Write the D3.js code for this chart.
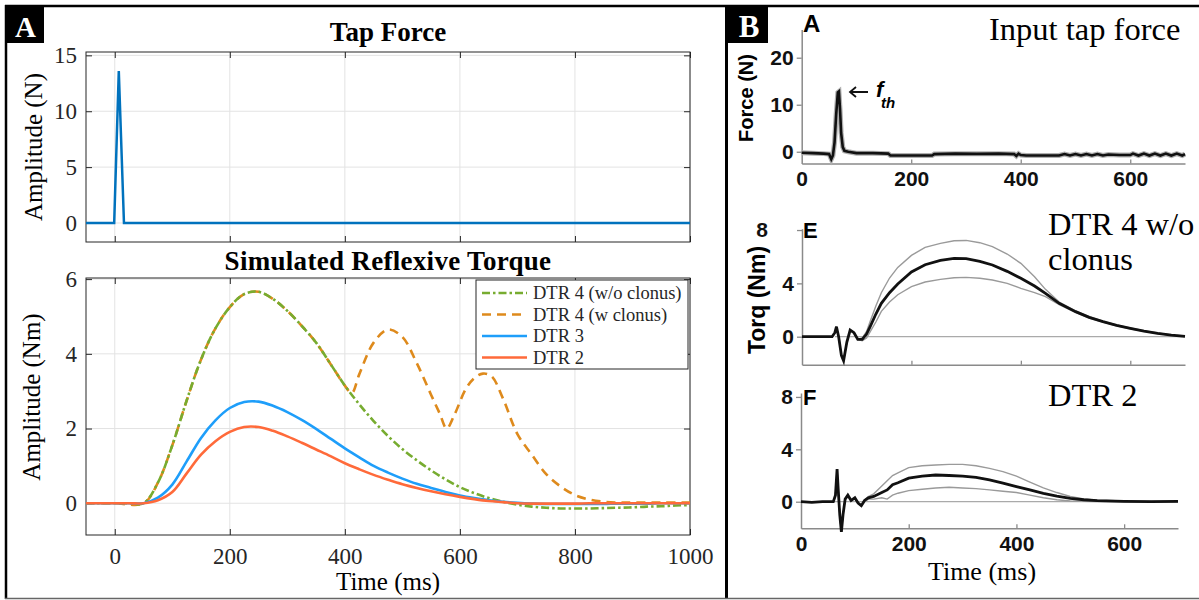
<!DOCTYPE html>
<html>
<head>
<meta charset="utf-8">
<script src="https://cdnjs.cloudflare.com/ajax/libs/d3/7.8.5/d3.min.js"></script>
<style>
body { margin: 0; background: #fff; }
svg { display: block; }
.serif { font-family: "Liberation Serif", "Times New Roman", serif; }
.sans { font-family: "Liberation Sans", Arial, sans-serif; font-weight: bold; }
</style>
</head>
<body>
<svg id="fig" width="1199" height="600"></svg>
<script>
// ---- panel A, tap force ----
var tapTime = [-50, -1, 7, 16, 1000];
var tapForce = [0, 0, 13.6, 0, 0];

// ---- panel A, simulated torque ----
var simTime = [-50,-25,0,25,50,75,100,125,150,175,200,225,250,275,300,325,350,375,400,425,450,475,500,525,550,575,600,625,650,675,700,725,750,775,800,825,850,875,900,925,950,975,1000];
var dtr4NoClonus = [0,0,0,0,0,0.55,1.55,2.75,3.85,4.68,5.25,5.6,5.66,5.47,5.15,4.75,4.3,3.73,3.15,2.65,2.2,1.8,1.45,1.15,0.88,0.64,0.43,0.27,0.14,0.04,-0.04,-0.09,-0.12,-0.14,-0.14,-0.14,-0.13,-0.12,-0.11,-0.09,-0.08,-0.06,-0.05];
var dtr3 = [0,0,0,0,0,0.15,0.5,1.12,1.75,2.22,2.55,2.71,2.72,2.61,2.44,2.23,1.99,1.73,1.47,1.23,1.0,0.82,0.66,0.52,0.41,0.3,0.21,0.14,0.08,0.04,0.01,-0.01,-0.02,-0.02,-0.02,-0.02,-0.02,-0.01,-0.01,-0.01,0,0,0];
var dtr2 = [0,0,0,0,0,0.08,0.3,0.8,1.3,1.66,1.91,2.04,2.04,1.94,1.79,1.62,1.44,1.26,1.07,0.91,0.76,0.63,0.51,0.41,0.32,0.24,0.17,0.11,0.06,0.03,0,-0.01,-0.01,-0.01,-0.01,0,0,0,0,0,0,0,0];
var clonusTime = [-50,0,50,75,100,125,150,175,200,225,250,275,300,325,350,375,400,412,425,450,475,500,525,550,565,577,590,610,625,640,655,675,700,725,750,775,800,825,850,875,900,950,1000];
var dtr4Clonus = [0,0,0,0.55,1.55,2.75,3.85,4.68,5.25,5.6,5.66,5.47,5.15,4.75,4.3,3.73,3.15,2.95,3.45,4.3,4.65,4.45,3.75,2.9,2.4,2.0,2.35,3.05,3.35,3.47,3.4,2.8,1.85,1.3,0.78,0.45,0.22,0.1,0.04,0.02,0.02,0.02,0.02];

var legendLabels = ["DTR 4 (w/o clonus)", "DTR 4 (w clonus)", "DTR 3", "DTR 2"];
var xTicksA = [0, 200, 400, 600, 800, 1000];
var yTicksTap = [0, 5, 10, 15];
var yTicksSim = [0, 2, 4, 6];

// ---- panel B, measured ----
var forceTime = [0,20,40,50,54,57,60,63,66,68,70,72,75,78,85,100,130,158,162,200,238,242,280,320,360,388,392,396,400,410,440,470,480,490,500,510,520,530,540,550,560,580,600,605,615,625,635,645,655,665,675,685,695,700];
var forceVal = [-0.2,-0.3,-0.4,-0.5,-1.6,-0.8,2,8,12.6,12.8,9,4,1,0.2,0,-0.3,-0.3,-0.4,-0.8,-0.8,-0.8,-0.5,-0.4,-0.45,-0.4,-0.5,-0.9,-0.4,-0.7,-0.8,-0.8,-0.8,-0.5,-0.8,-0.5,-0.8,-0.5,-0.8,-0.5,-0.8,-0.6,-0.7,-0.7,-0.4,-0.8,-0.4,-0.8,-0.4,-0.8,-0.4,-0.8,-0.4,-0.8,-0.5];

var eTime = [0,55,60,63,67,72,76,82,88,95,102,110,118,125,135,145,160,175,200,225,253,278,300,325,348,375,400,425,445,470,500,525,550,575,600,625,650,675,700];
var eMean = [0,0,0.3,0.75,0,-1.4,-1.8,-0.4,0.5,0.3,-0.2,-0.2,0.2,0.8,1.7,2.5,3.3,3.95,4.85,5.4,5.72,5.88,5.85,5.65,5.38,4.9,4.38,3.8,3.25,2.5,1.88,1.45,1.13,0.85,0.63,0.42,0.25,0.12,0.03];
var eUpper = [0,0,0.3,0.75,0,-1.4,-1.8,-0.4,0.5,0.3,-0.2,-0.1,0.4,1.2,2.3,3.3,4.4,5.2,6.1,6.7,7.0,7.2,7.22,7.05,6.75,6.2,5.5,4.5,3.55,2.6,1.93,1.5,1.17,0.88,0.66,0.45,0.28,0.14,0.05];
var eLower = [0,0,0.3,0.75,0,-1.4,-1.8,-0.4,0.5,0.3,-0.2,-0.3,-0.1,0.4,1.1,1.9,2.6,3.15,3.75,4.1,4.3,4.42,4.45,4.38,4.25,4.0,3.63,3.3,3.0,2.4,1.83,1.4,1.09,0.82,0.6,0.4,0.23,0.1,0.01];

var fTime = [0,20,40,60,64,67,69,72,75,78,82,87,93,100,106,112,118,125,135,150,160,170,180,200,225,250,275,300,325,350,375,400,425,450,475,500,525,550,600,650,700];
var fMean = [0,-0.05,0,0,0.5,2.5,1.0,-1.0,-2.3,-1.0,0.2,0.5,0.1,0.3,-0.1,-0.3,0.1,0.3,0.4,0.7,0.9,1.3,1.45,1.8,1.95,2.04,2.0,1.96,1.85,1.66,1.42,1.15,0.9,0.64,0.42,0.26,0.15,0.08,0.02,0,0.02];
var fUpper = [0,-0.05,0,0,0.5,2.5,1.0,-1.0,-2.3,-1.0,0.2,0.5,0.1,0.3,-0.1,-0.3,0.1,0.4,0.6,1.2,1.6,2.0,2.2,2.6,2.75,2.8,2.85,2.85,2.75,2.55,2.3,1.95,1.5,1.05,0.7,0.4,0.22,0.12,0.05,0.02,0.03];
var fLower = [0,-0.05,0,0,0.5,2.5,1.0,-1.0,-2.3,-1.0,0.2,0.5,0.1,0.3,-0.1,-0.3,0,0.2,0.2,0.3,0.2,0.5,0.65,0.85,0.95,1.05,1.1,1.05,1.0,0.9,0.8,0.7,0.5,0.3,0.15,0.06,0.04,0.02,0,-0.02,0];

var xTicksB = [0, 200, 400, 600];
var yTicksForce = [0, 10, 20];
var yTicksTorq = [0, 4, 8];

var svg = d3.select("#fig");

function pairs(xs, ys) {
	return xs.map(function (t, i) { return [t, ys[i]]; });
}

// matlab style axes: grid, box, inward ticks
function matlabAxes(g, x, y, xt, yt, xLabels) {
	var x0 = x.range()[0], x1 = x.range()[1], y0 = y.range()[0], y1 = y.range()[1];
	g.selectAll("line.gx").data(xt).enter().append("line")
		.attr("x1", function (d) { return x(d); }).attr("x2", function (d) { return x(d); })
		.attr("y1", y0).attr("y2", y1).attr("stroke", "#e3e3e3");
	g.selectAll("line.gy").data(yt).enter().append("line")
		.attr("y1", function (d) { return y(d); }).attr("y2", function (d) { return y(d); })
		.attr("x1", x0).attr("x2", x1).attr("stroke", "#e3e3e3");

	var ax = [
		g.append("g").attr("transform", "translate(0," + y0 + ")")
			.call(d3.axisBottom(x).tickValues(xt).tickSizeInner(-6).tickSizeOuter(0).tickPadding(13)
				.tickFormat(xLabels ? d3.format("d") : "")),
		g.append("g").attr("transform", "translate(0," + y1 + ")")
			.call(d3.axisTop(x).tickValues(xt).tickSizeInner(-6).tickSizeOuter(0).tickFormat("")),
		g.append("g").attr("transform", "translate(" + x0 + ",0)")
			.call(d3.axisLeft(y).tickValues(yt).tickSizeInner(-6).tickSizeOuter(0).tickPadding(9)
				.tickFormat(d3.format("d"))),
		g.append("g").attr("transform", "translate(" + x1 + ",0)")
			.call(d3.axisRight(y).tickValues(yt).tickSizeInner(-6).tickSizeOuter(0).tickFormat(""))
	];
	ax.forEach(function (a) {
		a.select(".domain").remove();
		a.selectAll("line").attr("stroke", "#262626");
		a.selectAll("text").attr("class", "serif").attr("font-size", 23).attr("fill", "#262626");
	});
	g.append("rect").attr("x", x0).attr("y", y1).attr("width", x1 - x0).attr("height", y0 - y1)
		.attr("fill", "none").attr("stroke", "#262626").attr("stroke-width", 1);
}

// ================= PANEL A =================
var gA = svg.append("g");
var xA = d3.scaleLinear().domain([-50, 1000]).range([86, 690]);

// tap force
var yTap = d3.scaleLinear().domain([-1.7, 15.3]).range([242, 52]);
matlabAxes(gA, xA, yTap, xTicksA, yTicksTap, false);
gA.append("path").datum(pairs(tapTime, tapForce))
	.attr("fill", "none").attr("stroke", "#0072BD").attr("stroke-width", 2.5)
	.attr("d", d3.line().x(function (d) { return xA(d[0]); }).y(function (d) { return yTap(d[1]); }));
gA.append("text").attr("class", "serif").attr("x", 388).attr("y", 41).attr("text-anchor", "middle")
	.attr("font-size", 27).attr("font-weight", "bold").text("Tap Force");
gA.append("text").attr("class", "serif").attr("font-size", 25).attr("text-anchor", "middle")
	.attr("transform", "translate(42,147) rotate(-90)").text("Amplitude (N)");

// simulated torque
var gS = gA.append("g");
var ySim = d3.scaleLinear().domain([-0.85, 6.03]).range([535, 278]);
matlabAxes(gS, xA, ySim, xTicksA, yTicksSim, true);

var lineA = d3.line().curve(d3.curveCatmullRom.alpha(0.5))
	.x(function (d) { return xA(d[0]); }).y(function (d) { return ySim(d[1]); });

var series = [
	{ data: pairs(simTime, dtr4NoClonus), color: "#77AC30", dash: "8,3,2.5,3" },
	{ data: pairs(clonusTime, dtr4Clonus), color: "#DE8A1C", dash: "9,6" },
	{ data: pairs(simTime, dtr3), color: "#1E9EFA", dash: null },
	{ data: pairs(simTime, dtr2), color: "#FF6A3A", dash: null }
];
// draw order: clonus below, w/o clonus on top of it
[1, 0, 2, 3].forEach(function (i) {
	var s = series[i];
	gS.append("path").datum(s.data)
		.attr("fill", "none").attr("stroke", s.color).attr("stroke-width", 2.6)
		.attr("stroke-dasharray", s.dash).attr("d", lineA);
});

gS.append("text").attr("class", "serif").attr("x", 388).attr("y", 270).attr("text-anchor", "middle")
	.attr("font-size", 27).attr("font-weight", "bold").attr("letter-spacing", 0.3).text("Simulated Reflexive Torque");
gS.append("text").attr("class", "serif").attr("font-size", 25).attr("text-anchor", "middle")
	.attr("transform", "translate(40,397) rotate(-90)").text("Amplitude (Nm)");
gS.append("text").attr("class", "serif").attr("font-size", 25).attr("text-anchor", "middle")
	.attr("x", 388).attr("y", 590).text("Time (ms)");

// legend
var leg = gS.append("g");
leg.append("rect").attr("x", 476).attr("y", 280).attr("width", 212).attr("height", 89)
	.attr("fill", "#fff").attr("stroke", "#262626").attr("stroke-width", 1);
series.forEach(function (s, i) {
	var yy = 293 + i * 21.5;
	leg.append("line").attr("x1", 482).attr("x2", 527).attr("y1", yy).attr("y2", yy)
		.attr("stroke", s.color).attr("stroke-width", 2.6).attr("stroke-dasharray", s.dash);
	leg.append("text").attr("class", "serif").attr("x", 533).attr("y", yy + 6)
		.attr("font-size", 18.5).attr("fill", "#262626").text(legendLabels[i]);
});

// ================= PANEL B =================
var gB = svg.append("g");

function bAxes(g, x, y, yt, xLabels) {
	var ya = g.append("g").attr("transform", "translate(" + x.range()[0] + ",0)")
		.call(d3.axisLeft(y).tickValues(yt).tickSizeInner(5).tickSizeOuter(0).tickPadding(3));
	var xa = g.append("g").attr("transform", "translate(0," + y.range()[0] + ")")
		.call(d3.axisBottom(x).tickValues(xTicksB).tickSizeInner(-4).tickSizeOuter(0).tickPadding(8)
			.tickFormat(xLabels ? d3.format("d") : ""));
	[ya, xa].forEach(function (a) {
		a.select(".domain").attr("stroke", "#8a8a8a").attr("stroke-width", 1.5);
		a.selectAll("line").attr("stroke", "#8a8a8a").attr("stroke-width", 1.3);
		a.selectAll("text").attr("class", "sans").attr("font-size", 21).attr("fill", "#111");
	});
	xa.selectAll(".tick").filter(function (d) { return d === 0; }).select("line").remove();
	return ya;
}

// B top: input tap force
var xBt = d3.scaleLinear().domain([0, 700]).range([801.7, 1185]);
var yBt = d3.scaleLinear().domain([-2.5, 26]).range([163.5, 29.5]);
bAxes(gB, xBt, yBt, yTicksForce, true);
var lineBt = d3.line().x(function (d) { return xBt(d[0]); }).y(function (d) { return yBt(d[1]); });
gB.append("path").datum(pairs(forceTime, forceVal)).attr("fill", "none")
	.attr("stroke", "#b0b0b0").attr("stroke-width", 5).attr("d", lineBt);
gB.append("path").datum(pairs(forceTime, forceVal)).attr("fill", "none")
	.attr("stroke", "#111").attr("stroke-width", 2.6).attr("d", lineBt);
gB.append("text").attr("class", "sans").attr("font-size", 20).attr("text-anchor", "middle")
	.attr("transform", "translate(753,98) rotate(-90)").text("Force (N)");
gB.append("path").attr("d", "M868,92 L850,92 M856,87 L850,92 L856,97")
	.attr("fill", "none").attr("stroke", "#111").attr("stroke-width", 1.8);
gB.append("text").attr("class", "sans").attr("font-style", "italic").attr("font-size", 22)
	.attr("x", 876).attr("y", 97).text("f");
gB.append("text").attr("class", "sans").attr("font-style", "italic").attr("font-size", 15)
	.attr("x", 881).attr("y", 108).text("th");
gB.append("text").attr("class", "sans").attr("font-size", 24).attr("x", 803).attr("y", 32).text("A");
gB.append("text").attr("class", "serif").attr("font-size", 32.5).attr("x", 989).attr("y", 40).text("Input tap force");

// E and F torque panels
function torquePanel(x, y, times, mean, upper, lower, xLabels, letter, letterY) {
	var g = gB.append("g");
	var ya = bAxes(g, x, y, yTicksTorq, xLabels);
	g.append("line").attr("x1", x(60)).attr("x2", x.range()[1]).attr("y1", y(0)).attr("y2", y(0))
		.attr("stroke", "#aaa").attr("stroke-width", 1.2);
	var ln = d3.line().x(function (d) { return x(d[0]); }).y(function (d) { return y(d[1]); });
	[upper, lower].forEach(function (v) {
		g.append("path").datum(pairs(times, v)).attr("fill", "none")
			.attr("stroke", "#9a9a9a").attr("stroke-width", 1.4).attr("d", ln);
	});
	g.append("path").datum(pairs(times, mean)).attr("fill", "none")
		.attr("stroke", "#111").attr("stroke-width", 2.8).attr("d", ln);
	g.append("text").attr("class", "sans").attr("font-size", 22).attr("x", 803).attr("y", letterY).text(letter);
	return ya;
}

var xE = d3.scaleLinear().domain([0, 700]).range([802, 1185]);
var yE = d3.scaleLinear().domain([-2.1, 8.1]).range([364.7, 228.7]);
var yaE = torquePanel(xE, yE, eTime, eMean, eUpper, eLower, false, "E", 238);
// the "8" of panel E sits further left in the source figure
yaE.selectAll(".tick").filter(function (d) { return d === 8; }).select("text").attr("x", -34);
gB.append("text").attr("class", "sans").attr("font-size", 23).attr("text-anchor", "middle")
	.attr("transform", "translate(765,300) rotate(-90)").text("Torq (Nm)");
gB.append("text").attr("class", "serif").attr("font-size", 32.5).attr("x", 1048).attr("y", 235).text("DTR 4 w/o");
gB.append("text").attr("class", "serif").attr("font-size", 32.5).attr("x", 1048).attr("y", 270).text("clonus");

var xF = d3.scaleLinear().domain([0, 700]).range([801, 1178]);
var yF = d3.scaleLinear().domain([-2.03, 8.3]).range([528.3, 393]);
torquePanel(xF, yF, fTime, fMean, fUpper, fLower, true, "F", 405);
gB.append("text").attr("class", "serif").attr("font-size", 32.5).attr("x", 1048).attr("y", 406).text("DTR 2");
gB.append("text").attr("class", "serif").attr("font-size", 26).attr("text-anchor", "middle")
	.attr("x", 982).attr("y", 580).text("Time (ms)");

// ================= frame and panel letters =================
var fr = svg.append("g");
fr.append("line").attr("x1", 5).attr("x2", 1199).attr("y1", 6).attr("y2", 6).attr("stroke", "#000").attr("stroke-width", 2.5);
fr.append("line").attr("x1", 6).attr("x2", 6).attr("y1", 5).attr("y2", 599).attr("stroke", "#000").attr("stroke-width", 2.5);
fr.append("line").attr("x1", 726.5).attr("x2", 726.5).attr("y1", 5).attr("y2", 599).attr("stroke", "#000").attr("stroke-width", 3);
fr.append("line").attr("x1", 5).attr("x2", 1199).attr("y1", 598.5).attr("y2", 598.5).attr("stroke", "#666").attr("stroke-width", 1.5);

fr.append("rect").attr("x", 6).attr("y", 6).attr("width", 38).attr("height", 37).attr("fill", "#000");
fr.append("text").attr("class", "serif").attr("x", 25.5).attr("y", 37).attr("text-anchor", "middle")
	.attr("font-size", 29).attr("font-weight", "bold").attr("fill", "#fff").text("A");
fr.append("rect").attr("x", 727).attr("y", 6).attr("width", 41).attr("height", 37).attr("fill", "#000");
fr.append("text").attr("class", "serif").attr("x", 749).attr("y", 37).attr("text-anchor", "middle")
	.attr("font-size", 31).attr("font-weight", "bold").attr("fill", "#fff").text("B");
</script>
</body>
</html>
